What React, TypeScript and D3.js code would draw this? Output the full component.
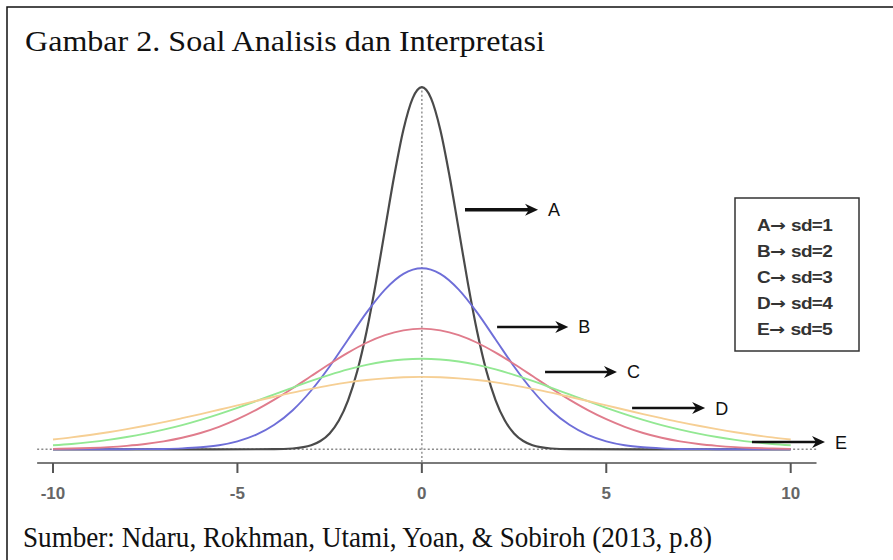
import React, { useEffect, useRef } from "react";
import * as d3 from "d3";

// density values (right half, curves are symmetric about 0)
const halfGridA = [0, 0.25, 0.5, 0.75, 1, 1.25, 1.5, 1.75, 2, 2.25, 2.5, 2.75, 3, 3.5, 4, 6, 10];
const densA = [0.399, 0.3867, 0.3521, 0.3011, 0.242, 0.1826, 0.1295, 0.0863, 0.054, 0.0317, 0.0175, 0.0091, 0.0044, 0.0009, 0.0001, 0, 0];

const halfGrid = [0, 0.5, 1, 1.5, 2, 2.5, 3, 3.5, 4, 4.5, 5, 5.5, 6, 6.5, 7, 7.5, 8, 8.5, 9, 9.5, 10];
const densB = [0.1995, 0.1933, 0.176, 0.1506, 0.121, 0.0913, 0.0648, 0.0431, 0.027, 0.0159, 0.0088, 0.0045, 0.0022, 0.001, 0.0004, 0.0002, 0.0001, 0, 0, 0, 0];
const densC = [0.133, 0.1311, 0.1258, 0.1174, 0.1065, 0.094, 0.0807, 0.0673, 0.0547, 0.0432, 0.0332, 0.0248, 0.018, 0.0127, 0.0087, 0.0058, 0.0038, 0.0024, 0.0015, 0.0009, 0.0005];
const densD = [0.0997, 0.099, 0.0967, 0.093, 0.088, 0.082, 0.0753, 0.068, 0.0605, 0.053, 0.0457, 0.0388, 0.0324, 0.0266, 0.0216, 0.0172, 0.0135, 0.0104, 0.0079, 0.0059, 0.0044];
const densE = [0.0798, 0.0794, 0.0782, 0.0763, 0.0737, 0.0704, 0.0666, 0.0625, 0.0579, 0.0532, 0.0484, 0.0436, 0.0388, 0.0343, 0.0299, 0.0259, 0.0222, 0.0188, 0.0158, 0.0131, 0.0108];

const curveLabels = ["A", "B", "C", "D", "E"];
const legendSd = ["sd=1", "sd=2", "sd=3", "sd=4", "sd=5"];
const xTicks = [-10, -5, 0, 5, 10];

// arrow annotations in data units: start x, end x, height
const arrowStart = [1.17, 2.04, 3.34, 5.7, 8.95];
const arrowEnd = [3.15, 3.97, 5.29, 7.68, 10.93];
const arrowY = [0.264, 0.1348, 0.0852, 0.0455, 0.008];

const titleText = "Gambar 2. Soal Analisis dan Interpretasi";
const sourceText = "Sumber: Ndaru, Rokhman, Utami, Yoan, & Sobiroh (2013, p.8)";

const colors = ["#4a4a4a", "#6e6ed8", "#e07c8c", "#93e893", "#f6cf94"];

function mirror(xs: number[], ys: number[]) {
  const pts: [number, number][] = [];
  for (let i = xs.length - 1; i > 0; i--) pts.push([-xs[i], ys[i]]);
  for (let i = 0; i < xs.length; i++) pts.push([xs[i], ys[i]]);
  return pts;
}

function Chart() {
  const ref = useRef<SVGSVGElement>(null);

  useEffect(() => {
    const svg = d3.select(ref.current);
    svg.selectAll("*").remove();

    const x = d3.scaleLinear().domain([-10, 10]).range([53, 790.7]);
    const y = d3.scaleLinear().domain([0, 0.4]).range([449.3, 86.3]);
    const axisY = 463;

    // frame
    svg.append("path")
      .attr("d", "M7,562 V7 H895")
      .attr("fill", "none")
      .attr("stroke", "#111")
      .attr("stroke-width", 1.5);

    svg.append("text")
      .attr("x", 25)
      .attr("y", 51)
      .attr("font-family", "'Liberation Serif', 'Times New Roman', serif")
      .attr("font-size", 30)
      .attr("textLength", 520)
      .attr("lengthAdjust", "spacingAndGlyphs")
      .attr("fill", "#111")
      .text(titleText);

    // reference lines
    svg.append("line")
      .attr("x1", x(-10.43)).attr("x2", x(10.7))
      .attr("y1", y(0)).attr("y2", y(0))
      .attr("stroke", "#8a8a8a")
      .attr("stroke-width", 1.6)
      .attr("stroke-dasharray", "2 2.2");

    svg.append("line")
      .attr("x1", x(0)).attr("x2", x(0))
      .attr("y1", y(0.4)).attr("y2", axisY)
      .attr("stroke", "#9a9a9a")
      .attr("stroke-width", 1.6)
      .attr("stroke-dasharray", "2 2.2");

    const series = [
      mirror(halfGridA, densA),
      mirror(halfGrid, densB),
      mirror(halfGrid, densC),
      mirror(halfGrid, densD),
      mirror(halfGrid, densE),
    ];

    const line = d3.line<[number, number]>()
      .x((d) => x(d[0]))
      .y((d) => y(d[1]))
      .curve(d3.curveMonotoneX);

    svg.selectAll(".curve")
      .data(series)
      .join("path")
      .attr("class", "curve")
      .attr("d", (d) => line(d))
      .attr("fill", "none")
      .attr("stroke", (d, i) => colors[i])
      .attr("stroke-width", (d, i) => (i === 0 ? 2.2 : 1.9));

    // x axis
    svg.append("line")
      .attr("x1", x(-10.43)).attr("x2", x(10.7))
      .attr("y1", axisY).attr("y2", axisY)
      .attr("stroke", "#7a7a7a")
      .attr("stroke-width", 2);

    svg.selectAll(".tick")
      .data(xTicks)
      .join("line")
      .attr("class", "tick")
      .attr("x1", (d) => x(d)).attr("x2", (d) => x(d))
      .attr("y1", axisY).attr("y2", axisY + 10)
      .attr("stroke", "#555")
      .attr("stroke-width", 2);

    svg.selectAll(".ticklabel")
      .data(xTicks)
      .join("text")
      .attr("class", "ticklabel")
      .attr("x", (d) => x(d))
      .attr("y", 499)
      .attr("text-anchor", "middle")
      .attr("font-family", "'Liberation Sans', Arial, sans-serif")
      .attr("font-size", 17)
      .attr("font-weight", "bold")
      .attr("fill", "#666")
      .text((d) => String(d));

    // arrows
    const arrows = svg.selectAll(".arrow")
      .data(curveLabels)
      .join("g")
      .attr("class", "arrow");

    arrows.append("line")
      .attr("x1", (d, i) => x(arrowStart[i]))
      .attr("x2", (d, i) => x(arrowEnd[i]) - 6)
      .attr("y1", (d, i) => y(arrowY[i]))
      .attr("y2", (d, i) => y(arrowY[i]))
      .attr("stroke", "#111")
      .attr("stroke-width", (d, i) => (i === 0 ? 3.4 : 2.6));

    arrows.append("path")
      .attr("d", (d, i) => {
        const xe = x(arrowEnd[i]);
        const ye = y(arrowY[i]);
        return `M${xe},${ye} L${xe - 13},${ye - 6} L${xe - 9},${ye} L${xe - 13},${ye + 6} Z`;
      })
      .attr("fill", "#111");

    arrows.append("text")
      .attr("x", (d, i) => x(arrowEnd[i]) + 10)
      .attr("y", (d, i) => y(arrowY[i]) + 6.5)
      .attr("font-family", "'Liberation Sans', Arial, sans-serif")
      .attr("font-size", 18)
      .attr("fill", "#111")
      .text((d) => d);

    // legend
    svg.append("rect")
      .attr("x", 735).attr("y", 198)
      .attr("width", 124).attr("height", 153)
      .attr("fill", "none")
      .attr("stroke", "#333")
      .attr("stroke-width", 1.5);

    const leg = svg.selectAll(".legend")
      .data(curveLabels)
      .join("text")
      .attr("class", "legend")
      .attr("x", 757)
      .attr("y", (d, i) => 231 + i * 26)
      .attr("font-family", "'Liberation Sans', Arial, sans-serif")
      .attr("font-size", 16)
      .attr("font-weight", "bold")
      .attr("letter-spacing", -0.6)
      .attr("textLength", 75)
      .attr("lengthAdjust", "spacingAndGlyphs")
      .attr("fill", "#333");

    leg.append("tspan").text((d) => d);
    leg.append("tspan")
      .attr("font-family", "'DejaVu Sans', sans-serif")
      .attr("font-size", 16)
      .text("\u2192");
    leg.append("tspan")
      .attr("dx", 5)
      .text((d, i) => legendSd[i]);

    svg.append("text")
      .attr("x", 23)
      .attr("y", 547)
      .attr("font-family", "'Liberation Serif', 'Times New Roman', serif")
      .attr("font-size", 30)
      .attr("textLength", 689)
      .attr("lengthAdjust", "spacingAndGlyphs")
      .attr("fill", "#111")
      .text(sourceText);
  }, []);

  return (
    <svg
      ref={ref}
      width={893}
      height={560}
      style={{ position: "absolute", left: 0, top: 0, background: "#fff" }}
    />
  );
}

export default function App() {
  return <Chart />;
}
